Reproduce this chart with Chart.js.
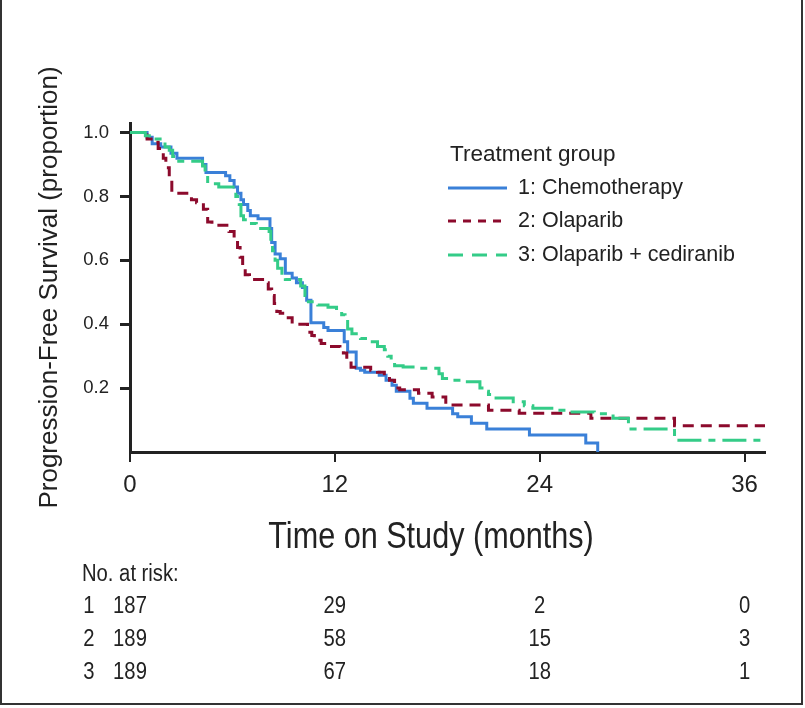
<!DOCTYPE html>
<html><head><meta charset="utf-8">
<script src="https://cdn.jsdelivr.net/npm/chart.js@4.4.0/dist/chart.umd.min.js"></script>
<style>html,body{margin:0;padding:0;background:#fff;}canvas{display:block;}</style>
</head><body>
<canvas id="c" width="805" height="708"></canvas>
<script>
// ---- data ----
const seriesLabels = ['1: Chemotherapy', '2: Olaparib', '3: Olaparib + cediranib'];
const legendTitle = 'Treatment group';
const xTitle = 'Time on Study (months)';
const yTitle = 'Progression-Free Survival (proportion)';

const chemoTime = [0,1.0,1.3,1.8,2.4,2.75,4.25,4.45,5.6,5.85,6.1,6.3,6.5,6.65,6.9,7.05,7.5,8.2,8.3,8.5,8.8,9.1,9.5,9.75,10.1,10.35,10.6,11.35,11.6,12.55,12.75,13.25,13.5,13.75,14.6,15.0,15.35,15.6,16.4,16.6,17.4,18.9,19.2,20.0,20.9,23.4,26.7,27.4];
const chemoSurv = [1.0,0.985,0.965,0.955,0.935,0.92,0.90,0.875,0.865,0.85,0.83,0.81,0.79,0.775,0.756,0.74,0.73,0.70,0.656,0.62,0.605,0.56,0.545,0.53,0.515,0.475,0.405,0.39,0.38,0.345,0.313,0.262,0.256,0.25,0.24,0.225,0.209,0.19,0.168,0.153,0.137,0.12,0.11,0.09,0.072,0.053,0.028,0];

const olaTime = [0,1.0,1.35,1.65,1.95,2.1,2.3,2.45,3.6,3.9,4.3,4.55,4.8,5.8,6.1,6.3,6.45,6.6,6.75,7.0,7.9,8.1,8.3,8.45,8.6,8.8,9.15,9.5,10.4,10.65,10.8,11.2,11.6,12.3,12.5,12.7,12.95,14.1,14.5,14.9,15.2,15.5,15.8,16.9,17.7,18.5,21.0,22.8,27.0,31.9,37.2];
const olaSurv = [1.0,0.98,0.97,0.95,0.92,0.89,0.85,0.81,0.79,0.78,0.76,0.72,0.71,0.69,0.67,0.64,0.61,0.585,0.555,0.54,0.53,0.51,0.49,0.465,0.44,0.434,0.42,0.40,0.375,0.365,0.35,0.34,0.33,0.325,0.31,0.29,0.265,0.256,0.25,0.24,0.225,0.20,0.195,0.184,0.172,0.147,0.131,0.121,0.106,0.082,0.082];

const comboTime = [0,0.9,1.4,1.9,2.05,2.3,2.5,2.65,4.25,4.4,4.55,5.2,6.2,6.4,6.5,6.65,7.0,7.4,8.15,8.25,8.35,8.5,8.65,8.9,9.1,10.0,10.25,10.45,11.0,11.6,12.1,12.4,12.6,12.75,13.0,13.5,14.0,14.5,14.9,15.1,15.3,15.5,16.0,16.7,18.1,18.3,18.9,19.4,20.5,20.8,21.0,21.3,22.45,23.1,23.6,24.9,25.7,27.2,28.3,29.2,29.35,31.9,37.2];
const comboSurv = [1.0,0.99,0.98,0.97,0.955,0.945,0.925,0.91,0.895,0.87,0.84,0.83,0.80,0.775,0.74,0.727,0.715,0.70,0.69,0.655,0.63,0.60,0.575,0.56,0.54,0.52,0.49,0.47,0.46,0.453,0.444,0.43,0.415,0.385,0.37,0.355,0.345,0.33,0.32,0.30,0.285,0.27,0.266,0.262,0.245,0.23,0.225,0.22,0.20,0.19,0.18,0.169,0.157,0.145,0.137,0.131,0.125,0.12,0.106,0.09,0.072,0.037,0.037];

const xTickValues = [0, 12, 24, 36];
const yTickValues = [0.2, 0.4, 0.6, 0.8, 1.0];

const riskHeader = 'No. at risk:';
const riskTimes = [0, 12, 24, 36];
const riskGroupIds = ['1', '2', '3'];
const riskChemo = [187, 29, 2, 0];
const riskOla = [189, 58, 15, 3];
const riskCombo = [189, 67, 18, 1];

// ---- styling ----
const FONT = '"Liberation Sans", Arial, Helvetica, sans-serif';
const INK = '#222222';
const colors = ['#3a80d8', '#8c0a2c', '#34cc88'];
const plotDash = [[], [11, 7], [24, 7, 7, 7]];
const legendDash = [[], [8, 7], [15, 9]];

const toPts = (t, s) => t.map((v, i) => ({x: v, y: s[i]}));

Chart.defaults.font.family = FONT;
Chart.defaults.color = INK;

// draw text with a narrower (condensed) face
function narrowText(ctx, txt, x, y, align, size, squeeze) {
  ctx.save();
  ctx.translate(x, y);
  ctx.scale(squeeze, 1);
  ctx.textAlign = align;
  ctx.font = size + 'px ' + FONT;
  ctx.fillText(txt, 0, 0);
  ctx.restore();
}

const extras = {
  id: 'extras',
  afterDraw(chart) {
    const ctx = chart.ctx;
    const xs = chart.scales.x;
    ctx.save();
    ctx.fillStyle = INK;
    ctx.textBaseline = 'middle';
    // x-axis title
    narrowText(ctx, xTitle, 431, 538, 'center', 36, 0.85);
    // legend
    ctx.textAlign = 'left';
    ctx.font = '22.5px ' + FONT;
    ctx.fillText(legendTitle, 450, 155);
    ctx.font = '21.5px ' + FONT;
    const ly = [188, 221, 255];
    chart.data.datasets.forEach((ds, i) => {
      ctx.beginPath();
      ctx.setLineDash(legendDash[i]);
      ctx.strokeStyle = ds.borderColor;
      ctx.lineWidth = 3;
      ctx.moveTo(448, ly[i]);
      ctx.lineTo(507, ly[i]);
      ctx.stroke();
      ctx.setLineDash([]);
      ctx.fillText(ds.label, 518, ly[i]);
    });
    // risk table
    narrowText(ctx, riskHeader, 82, 575, 'left', 23, 0.88);
    const rows = [riskChemo, riskOla, riskCombo];
    const ry = [607, 640, 673];
    rows.forEach((r, i) => {
      narrowText(ctx, riskGroupIds[i], 89, ry[i], 'center', 23, 0.88);
      r.forEach((n, j) => {
        narrowText(ctx, String(n), xs.getPixelForValue(riskTimes[j]), ry[i], 'center', 23, 0.88);
      });
    });
    // frame
    ctx.strokeStyle = '#333';
    ctx.lineWidth = 2;
    ctx.beginPath();
    ctx.moveTo(1, 0); ctx.lineTo(1, 704); ctx.lineTo(802, 704); ctx.lineTo(802, 0);
    ctx.stroke();
    ctx.restore();
  }
};

new Chart(document.getElementById('c'), {
  type: 'line',
  data: {
    datasets: [
      {label: seriesLabels[0], data: toPts(chemoTime, chemoSurv), borderColor: colors[0], borderDash: plotDash[0], order: 3},
      {label: seriesLabels[1], data: toPts(olaTime, olaSurv), borderColor: colors[1], borderDash: plotDash[1], order: 2},
      {label: seriesLabels[2], data: toPts(comboTime, comboSurv), borderColor: colors[2], borderDash: plotDash[2], order: 1}
    ].map(d => Object.assign(d, {stepped: true, borderWidth: 3, pointRadius: 0, fill: false, tension: 0}))
  },
  options: {
    responsive: false,
    devicePixelRatio: 1,
    animation: false,
    layout: {padding: {top: 123, right: 40, left: 0, bottom: 0}},
    plugins: {legend: {display: false}, tooltip: {enabled: false}},
    scales: {
      x: {
        type: 'linear', min: 0, max: 37.2,
        afterBuildTicks: s => { s.ticks = xTickValues.map(v => ({value: v})); },
        ticks: {font: {size: 24}, color: INK, padding: 9, maxRotation: 0, autoSkip: false},
        grid: {drawOnChartArea: false, drawTicks: true, tickLength: 10, color: INK, lineWidth: 2},
        border: {display: true, color: INK, width: 3},
        title: {display: false},
        afterFit: s => { s.height = 256; }
      },
      y: {
        type: 'linear', min: 0, max: 1.03,
        afterBuildTicks: s => { s.ticks = yTickValues.map(v => ({value: v})); },
        ticks: {font: {size: 18.5}, color: INK, padding: 11, callback: v => Number(v).toFixed(1)},
        grid: {drawOnChartArea: false, drawTicks: true, tickLength: 10, color: INK, lineWidth: 3},
        border: {display: true, color: INK, width: 3},
        title: {display: true, text: yTitle, font: {size: 26}, color: INK, padding: {top: 34, bottom: 0}},
        afterFit: s => { s.width = 130; }
      }
    }
  },
  plugins: [extras]
});
</script>
</body></html>
